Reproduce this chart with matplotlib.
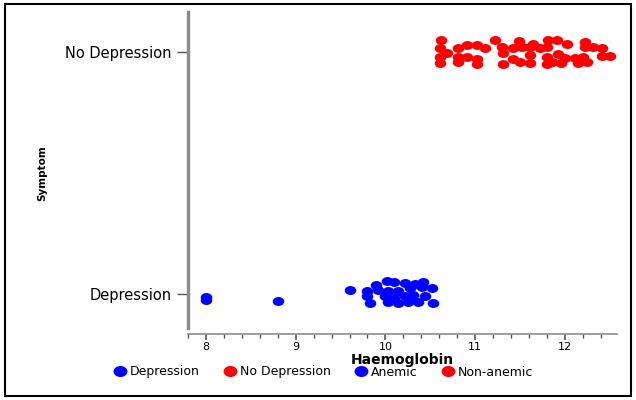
import numpy as np
import matplotlib
matplotlib.use("Agg")
import matplotlib.pyplot as plt
from matplotlib.path import Path
from matplotlib.lines import Line2D
from matplotlib.patches import Rectangle
from matplotlib import ticker

categories = ["Depression", "No Depression"]

# Depression / anemic group (y = 0 plus jitter)
dep_hb = [8.00, 8.00, 8.80, 9.61,
          10.02, 10.10, 10.22, 10.33, 10.42,
          9.80, 9.92, 10.03, 10.14, 10.27, 10.41, 10.52,
          9.79, 9.99, 10.22, 10.31, 10.44,
          9.83, 10.03, 10.14, 10.25, 10.36, 10.53,
          10.10, 10.27, 9.89]
dep_y = [-0.012, -0.025, -0.029, 0.017,
         0.054, 0.050, 0.045, 0.041, 0.050,
         0.012, 0.017, 0.012, 0.012, 0.025, 0.029, 0.025,
         -0.008, -0.008, -0.008, -0.004, -0.008,
         -0.037, -0.033, -0.037, -0.033, -0.033, -0.037,
         -0.017, -0.021, 0.037]

# No depression / non-anemic group (y = 1 plus jitter)
nodep_hb = [10.62, 10.61, 10.69, 10.61, 10.61,
            10.81, 10.91, 11.02, 11.11, 10.81, 10.91, 11.02, 10.81, 11.02,
            11.22, 11.30, 11.31, 11.42, 11.42, 11.31, 11.49, 11.52, 11.50,
            11.61, 11.61, 11.61, 11.64, 11.72,
            11.81, 11.91, 11.80, 11.92, 11.80, 11.80, 11.86, 12.02, 12.00, 11.96,
            12.11, 12.14, 12.22, 12.22, 12.31, 12.20, 12.41, 12.41, 12.50, 12.25]
nodep_y = [1.050, 1.017, 0.996, 0.979, 0.955,
           1.017, 1.029, 1.029, 1.017, 0.979, 0.979, 0.971, 0.959, 0.950,
           1.050, 1.021, 0.996, 1.017, 0.971, 0.950, 1.045, 1.021, 0.959,
           1.021, 0.988, 0.955, 1.033, 1.017,
           1.050, 1.050, 1.021, 0.992, 0.979, 0.950, 0.959, 1.033, 0.975, 0.955,
           0.975, 0.955, 1.041, 1.021, 1.021, 0.979, 1.017, 0.983, 0.983, 0.959]

xticks = [8, 9, 10, 11, 12]
legend_labels = ["Depression", "No Depression", "Anemic", "Non-anemic"]
legend_colors = ["#0000ff", "#ff0000", "#0000ff", "#ff0000"]

# slightly flattened dot like the original
ell = Path.unit_circle().transformed(matplotlib.transforms.Affine2D().scale(1.3, 1.0))

fig = plt.figure(figsize=(6.36, 4.0), dpi=100)
ax = fig.add_axes([188/636, 66/400, (617-188)/636, (334-12)/400])

ax.scatter(dep_hb, dep_y, marker=ell, s=70, color="#0000ff", linewidths=0)
ax.scatter(nodep_hb, nodep_y, marker=ell, s=70, color="#ff0000", linewidths=0)

ax.set_xlim(7.80, 12.58)
ax.set_ylim(-0.165, 1.165)

ax.spines["top"].set_visible(False)
ax.spines["right"].set_visible(False)
ax.spines["left"].set_color("#8c8c8c")
ax.spines["left"].set_linewidth(2.4)
ax.spines["left"].set_bounds(-0.14, 1.165)
ax.spines["bottom"].set_color("#8c8c8c")
ax.spines["bottom"].set_linewidth(1.2)

ax.set_xticks(xticks)
ax.xaxis.set_minor_locator(ticker.MultipleLocator(0.2))
ax.tick_params(axis="x", which="major", length=4, width=1.2, color="#555555",
               labelsize=8, pad=2)
ax.tick_params(axis="x", which="minor", length=3, width=1.0, color="#555555")

ax.set_yticks([0, 1])
ax.set_yticklabels(categories)
ax.tick_params(axis="y", length=8, width=1.0, color="#555555", labelsize=10.5, pad=4)

ax.set_xlabel("Haemoglobin", fontsize=10, fontweight="bold", va="center")
ax.xaxis.set_label_coords(0.5, -0.08)
ax.set_ylabel("Symptom", fontsize=7.5, fontweight="bold", va="center")
ax.yaxis.set_label_coords(-0.34, 0.5)

handles = [Line2D([], [], marker=ell, linestyle="none", color=c, markersize=9)
           for c in legend_colors]
fig.legend(handles, legend_labels, loc="center", bbox_to_anchor=(0.509, 0.07), ncol=4,
           frameon=False, fontsize=9, handletextpad=0.3, columnspacing=2.0,
           handlelength=0.9, borderpad=0)

fig.patches.append(Rectangle((5/636, 4/400), 626/636, 392/400, transform=fig.transFigure,
                             fill=False, edgecolor="black", linewidth=1.5))

fig.savefig("out.png", dpi=100)
